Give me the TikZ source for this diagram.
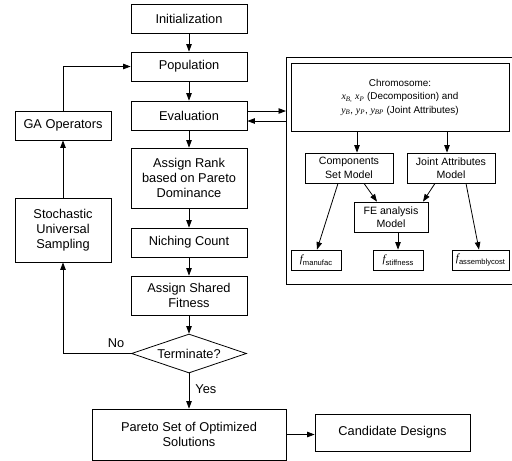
\documentclass[tikz,border=0pt]{standalone}
\usepackage{fontspec}
\setmainfont{Liberation Sans}
\newfontfamily\tnr{Liberation Serif}
\usetikzlibrary{shapes.geometric,arrows.meta}
\newcommand{\vsub}[2]{{\tnr\itshape #1}\textsubscript{\tnr\itshape #2}}
\newcommand{\fsub}[1]{{\tnr\itshape\fontsize{11}{12}\selectfont f}\raisebox{-2.5pt}{\fontsize{7.6}{8}\selectfont #1}}
\begin{document}
\begin{tikzpicture}[x=1pt,y=-1pt,
  box/.style={draw,line width=0.8pt,rectangle,inner sep=0pt,align=center,font=\fontsize{12.8}{15}\selectfont},
  sbox/.style={draw,line width=0.8pt,rectangle,inner sep=0pt,align=center,font=\fontsize{10.6}{13.5}\selectfont},
  arr/.style={line width=0.8pt,-{Triangle[length=7.5pt,width=5.5pt]}},
  ln/.style={line width=0.8pt},
  lbl/.style={font=\fontsize{12.8}{15}\selectfont,inner sep=0pt}]
\useasboundingbox (0,0) rectangle (512,461);
% main column
\node[box,minimum width=116,minimum height=29] (init) at (189,18.5) {Initialization};
\node[box,minimum width=116,minimum height=29] (pop) at (189,66.5) {Population};
\node[box,minimum width=116,minimum height=29] (eval) at (189,115.5) {Evaluation};
\node[box,minimum width=116,minimum height=60] (rank) at (189,178) {Assign Rank\\based on Pareto\\Dominance};
\node[box,minimum width=116,minimum height=29] (nich) at (189,242.5) {Niching Count};
\node[box,minimum width=116,minimum height=39] (fit) at (189,295.5) {Assign Shared\\Fitness};
\node[draw,line width=0.8pt,diamond,aspect=2.95,inner sep=0pt,minimum width=115,minimum height=39,font=\fontsize{12.8}{15}\selectfont] (term) at (189,353.5) {Terminate?};
\node[box,minimum width=194,minimum height=51] (pareto) at (189,434.5) {Pareto Set of Optimized\\Solutions};
\node[box,minimum width=155,minimum height=37] (cand) at (392.5,432.5) {Candidate Designs};
\node[box,minimum width=96,minimum height=29] (ga) at (63,125.5) {GA Operators};
\node[box,minimum width=96,minimum height=64] (sus) at (63,230) {Stochastic\\Universal\\Sampling};
% outer frame
\draw[ln] (513,57) -- (286,57) -- (286,284) -- (513,284);
\coordinate (o1) at (286,111);
\coordinate (o2) at (286,121);
% right panel
\node[sbox,minimum width=218,minimum height=68,font=\fontsize{9.9}{13.5}\selectfont] (chrom) at (400,97) {Chromosome:\\\vsub{x}{B,} \vsub{x}{P} (Decomposition) and\\\vsub{y}{B}, \vsub{y}{P}, \vsub{y}{BP} (Joint Attributes)};
\node[sbox,minimum width=88,minimum height=30] (comp) at (349,168) {Components\\Set Model};
\node[sbox,minimum width=88,minimum height=30] (joint) at (451,168) {Joint Attributes\\Model};
\node[sbox,minimum width=74,minimum height=30] (fe) at (391,217) {FE analysis\\Model};
\node[sbox,minimum width=50,minimum height=20] (fman) at (316,260) {\fsub{manufac}};
\node[sbox,minimum width=50,minimum height=20] (fstiff) at (398,260) {\fsub{stiffness}};
\node[sbox,minimum width=57,minimum height=20] (fasm) at (480.5,260) {\fsub{assemblycost}};
% main arrows
\draw[arr] (init) -- (pop);
\draw[arr] (pop) -- (eval);
\draw[arr] (eval) -- (rank);
\draw[arr] (rank) -- (nich);
\draw[arr] (nich) -- (fit);
\draw[arr] (fit) -- (term.north);
\draw[arr] (term.south) -- node[lbl,right=6pt,pos=0.45] {Yes} (pareto.north);
\draw[arr] (pareto.east) -- (pareto.east -| cand.west);
\draw[arr] (term.west) -| (sus.south);
\node[lbl] (no) at (116,343) {No};
\draw[arr] (sus.north) -- (ga.south);
\draw[arr] (ga.north) |- (pop.west);
\draw[arr] (eval.east |- o1) -- (o1);
\draw[arr] (o2) -- (eval.east |- o2);
% right panel arrows
\draw[arr] ([xshift=8]comp.north |- chrom.south) -- ([xshift=8]comp.north);
\draw[arr] ([xshift=-4]joint.north |- chrom.south) -- ([xshift=-4]joint.north);
\draw[arr] ([xshift=-11]comp.south) -- ([xshift=1]fman.north);
\draw[arr] ([xshift=15]comp.south) -- ([xshift=-14]fe.north);
\draw[arr] ([xshift=-16]joint.south) -- ([xshift=32]fe.north);
\draw[arr] ([xshift=15]joint.south) -- ([xshift=-1.5]fasm.north);
\draw[arr] ([xshift=7]fe.south) -- (fstiff.north);
\end{tikzpicture}
\end{document}
